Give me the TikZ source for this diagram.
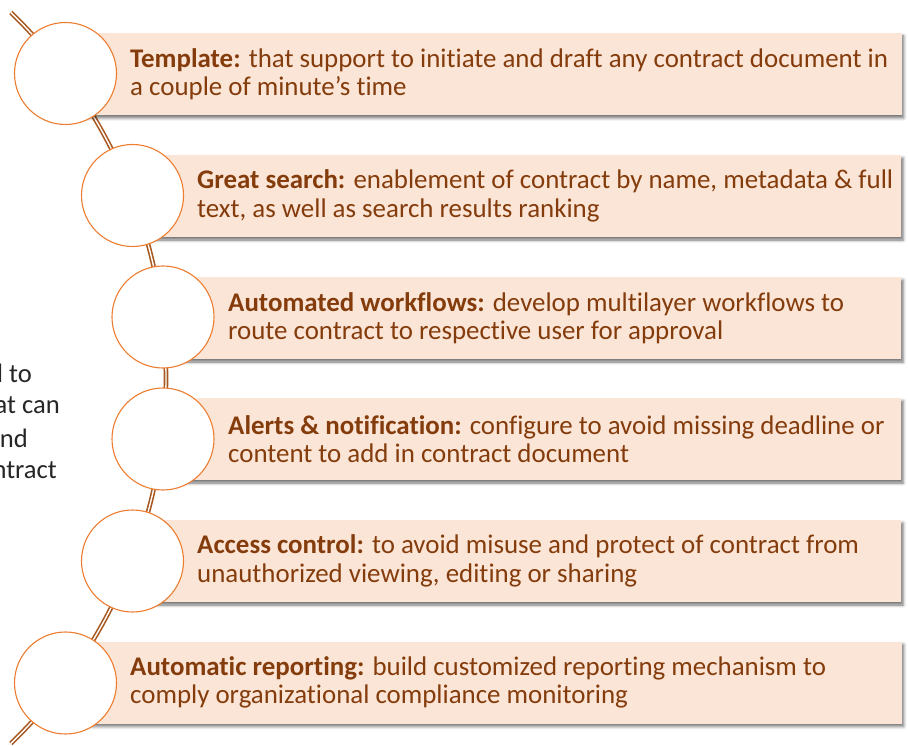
\documentclass[tikz,border=0pt]{standalone}
\usepackage{fontspec}
\setmainfont{Carlito}[Ligatures={NoCommon}]
\usetikzlibrary{positioning,shadows.blur}
\definecolor{rust}{HTML}{843C0C}
\definecolor{peach}{HTML}{FBE5D6}
\definecolor{ring}{HTML}{ED7D31}
\definecolor{stem}{HTML}{A8581F}

\begin{document}
\begin{tikzpicture}[x=1pt, y=-1pt,
    bar/.style = {fill=peach, minimum height=82pt, anchor=west, inner sep=0pt,
        blur shadow={shadow xshift=2pt, shadow yshift=-3pt, shadow blur radius=3pt, shadow opacity=55}},
    dot/.style = {circle, draw=ring, fill=white, line width=1.1pt, minimum size=102pt, inner sep=0pt},
    note/.style = {anchor=west, align=left, inner sep=0pt, text=rust, font=\fontsize{26.9}{28.5}\selectfont},
    side/.style = {anchor=base east, inner sep=0pt, text=black!85, font=\fontsize{26.6}{28}\selectfont}]
    \useasboundingbox (0,0) rectangle (908,746);
    % stem behind everything
    \draw[draw=stem, line width=1.6pt, double=white, double distance=1.4pt] (-342,378) ++(-46:508) arc[start angle=-46, end angle=46, radius=508];
    % text cut off at the left edge
    \node[side] (l1) at (32,382) {d to};
    \node[side] (l2) at (60,413) {at can};
    \node[side] (l3) at (28,447) {nd};
    \node[side] (l4) at (57,478) {ntract};
    % boxes
    \node[bar, minimum width=836pt] (b1) at (65.5,74) {};
    \node[bar, minimum width=768.5pt] (b2) at (132.5,196) {};
    \node[bar, minimum width=738pt] (b3) at (163,318) {};
    \node[bar, minimum width=738pt] (b4) at (163,439) {};
    \node[bar, minimum width=768.5pt] (b5) at (132.5,561) {};
    \node[bar, minimum width=836pt] (b6) at (65.5,682.5) {};
    % circles
    \node[dot] (c1) at (65.5,73.5) {};
    \node[dot] (c2) at (132.5,195.5) {};
    \node[dot] (c3) at (163,317) {};
    \node[dot] (c4) at (163,439) {};
    \node[dot] (c5) at (132.5,561) {};
    \node[dot] (c6) at (65.5,683) {};
    % texts
    \node[note] (t1) at (130,74) {\textbf{Template:} that support to initiate and draft any contract document in\\a couple of minute’s time};
    \node[note] (t2) at (197,196) {\textbf{Great search:} enablement of contract by name, metadata \& full\\text, as well as search results ranking};
    \node[note] (t3) at (228,318) {\textbf{Automated workflows:} develop multilayer workflows to\\route contract to respective user for approval};
    \node[note] (t4) at (228,439) {\textbf{Alerts \& notification:} configure to avoid missing deadline or\\content to add in contract document};
    \node[note] (t5) at (197,561) {\textbf{Access control:} to avoid misuse and protect of contract from\\unauthorized viewing, editing or sharing};
    \node[note] (t6) at (130,682.5) {\textbf{Automatic reporting:} build customized reporting mechanism to\\comply organizational compliance monitoring};
\end{tikzpicture}
\end{document}
